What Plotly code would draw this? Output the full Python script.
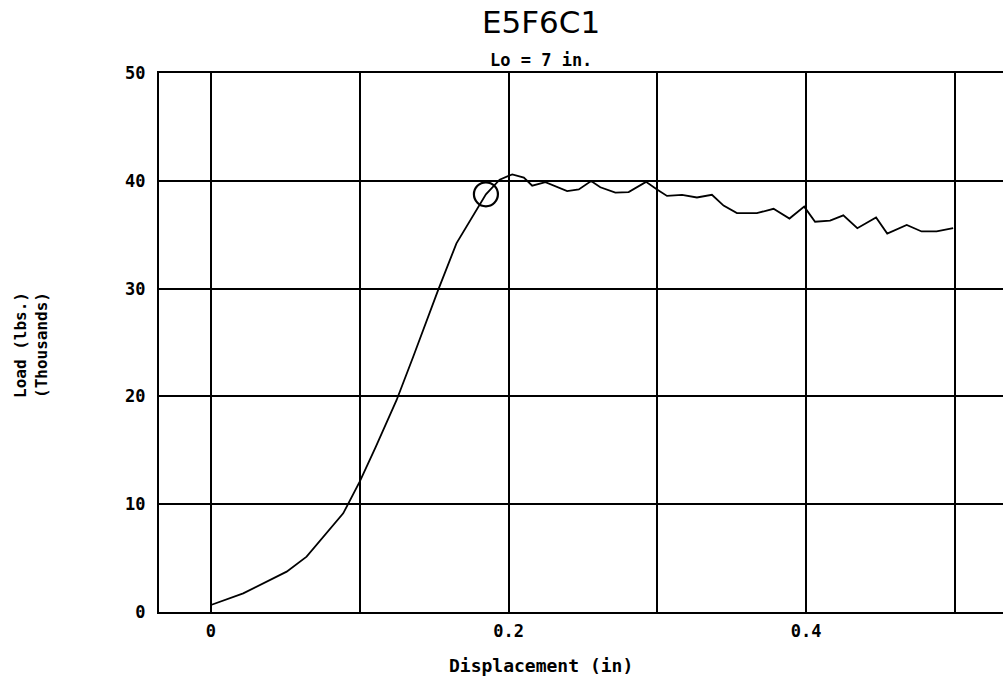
import plotly.graph_objects as go

# Load-displacement curve (displacement in inches, load in thousands of lbs)
disp = [0.0, 0.0217, 0.0509, 0.0643, 0.0889, 0.1, 0.1107, 0.1248, 0.136, 0.1528,
        0.165, 0.1786, 0.1848, 0.194, 0.2025, 0.2103, 0.2159, 0.2248, 0.2394,
        0.2472, 0.2555, 0.2617, 0.2718, 0.2807, 0.2924, 0.2998, 0.3065, 0.3166,
        0.3266, 0.3367, 0.3445, 0.3535, 0.3669, 0.3781, 0.3888, 0.3987, 0.406,
        0.4161, 0.425, 0.4344, 0.447, 0.4545, 0.4676, 0.4776, 0.4877, 0.4988]
load = [0.65, 1.73, 3.74, 5.13, 9.15, 12.1, 15.3, 19.67, 23.7, 29.9,
        34.2, 37.3, 38.75, 40.1, 40.6, 40.3, 39.55, 39.88, 39.05,
        39.2, 39.97, 39.4, 38.9, 38.95, 39.9, 39.2, 38.6, 38.7,
        38.45, 38.7, 37.7, 37.0, 37.0, 37.4, 36.5, 37.6, 36.2,
        36.3, 36.8, 35.6, 36.6, 35.1, 35.9, 35.3, 35.3, 35.6]

# Marked point (circle)
mark_x = [0.1848]
mark_y = [38.75]

x_tickvals = [0, 0.1, 0.2, 0.3, 0.4, 0.5]
x_ticktext = ["0", "", "0.2", "", "0.4", ""]
y_tickvals = [0, 10, 20, 30, 40, 50]
y_ticktext = ["0", "10", "20", "30", "40", "50"]

title_text = "E5F6C1"
subtitle_text = "Lo = 7 in."
x_title = "Displacement (in)"
y_title = "Load (lbs.)<br>(Thousands)"

W, H = 1003, 684
L, R, T, B = 159, 1003, 73, 612   # plot area in pixels
mono = "DejaVu Sans Mono"


def px_to_paper(px, py):
    return (px - L) / (R - L), (B - py) / (B - T)


fig = go.Figure()
fig.add_trace(go.Scatter(x=disp, y=load, mode="lines",
                         line=dict(color="black", width=1.8),
                         showlegend=False, hoverinfo="skip"))
fig.add_trace(go.Scatter(x=mark_x, y=mark_y, mode="markers",
                         marker=dict(symbol="circle-open", size=24,
                                     color="black", line=dict(width=2.2)),
                         showlegend=False, hoverinfo="skip"))

sx, sy = px_to_paper(541, 60)
tx, ty = px_to_paper(541, 665)
yx, yy = px_to_paper(31, 345)

fig.update_layout(
    width=W, height=H,
    margin=dict(l=L, r=W - R, t=T, b=H - B),
    paper_bgcolor="white", plot_bgcolor="white",
    title=dict(text=title_text, x=541 / W, xref="container", xanchor="center",
               y=1 - 22 / H, yref="container", yanchor="middle",
               font=dict(family="DejaVu Sans", size=31, color="black")),
    xaxis=dict(range=[-0.0349, 0.5323], tickvals=x_tickvals, ticktext=x_ticktext,
               showgrid=True, gridcolor="black", gridwidth=2,
               showline=True, linecolor="black", linewidth=2, mirror=True,
               zeroline=False, ticks="", ticklabelstandoff=3,
               tickfont=dict(family=mono, size=17, color="black", weight="bold")),
    yaxis=dict(range=[0, 50], tickvals=y_tickvals, ticktext=y_ticktext,
               showgrid=True, gridcolor="black", gridwidth=2,
               showline=True, linecolor="black", linewidth=2, mirror=False,
               zeroline=False, ticks="", ticklabelstandoff=8,
               tickfont=dict(family=mono, size=17, color="black", weight="bold")),
    annotations=[
        dict(text=subtitle_text, x=sx, y=sy, xref="paper", yref="paper",
             showarrow=False, xanchor="center", yanchor="middle",
             font=dict(family=mono, size=17, color="black", weight="bold")),
        dict(text=x_title, x=tx, y=ty, xref="paper", yref="paper",
             showarrow=False, xanchor="center", yanchor="middle",
             font=dict(family=mono, size=18, color="black", weight="bold")),
        dict(text=y_title, x=yx, y=yy, xref="paper", yref="paper",
             showarrow=False, xanchor="center", yanchor="middle", textangle=-90,
             font=dict(family=mono, size=16, color="black", weight="bold")),
    ],
)

fig.write_html("out.html",
               config={"displayModeBar": False},
               post_script="document.body.style.margin='0';"
                           "document.body.style.overflow='hidden';")
